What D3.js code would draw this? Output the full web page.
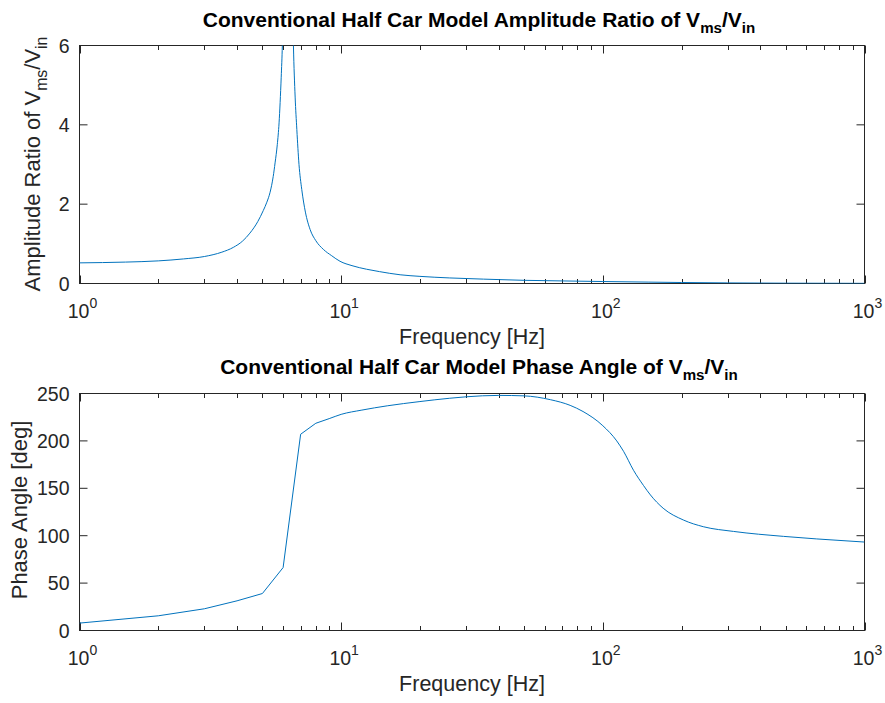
<!DOCTYPE html>
<html><head><meta charset="utf-8">
<script src="https://cdn.jsdelivr.net/npm/d3@7"></script>
<style>
body{margin:0;background:#fff}
text{font-family:"Liberation Sans",Arial,sans-serif;fill:#262626}
</style>
</head><body><svg id="c" width="885" height="703"></svg>
<script>
// ---- data ----
const ampFreq  = [1,1.5,2,2.5,3,3.5,3.87,4.2,4.48,4.8,5.04,5.2,5.35,5.5,5.59,5.7,5.79,5.9,5.96,6.05,6.15,6.25,6.35,6.45,6.57,6.67,6.77,6.9,7.07,7.3,7.61,8,8.55,9.2,9.9,11,12.5,14,16.8,20,26,35,50,70,100,150,200,300,500,1000];
const ampValue = [0.52,0.54,0.57,0.62,0.68,0.79,0.91,1.07,1.27,1.56,1.84,2.05,2.3,2.7,3.04,3.5,4.05,5.2,6.0,8,14,40,16,9,6.0,4.7,3.88,3.0,2.37,1.8,1.36,1.08,0.86,0.7,0.56,0.45,0.36,0.3,0.22,0.18,0.14,0.11,0.08,0.065,0.05,0.035,0.025,0.015,0.008,0.004];
const phaseFreq  = [1,2,3,4,5,6,7,8,9,10,12,15,20,26,30,40,50,63,75,84,100,113,120,131,143,152,170,203,242,316,490,657,1000];
const phaseValue = [7.8,15.5,22.9,31.3,39,66.4,207,218.6,223.5,228,232.5,237,241.5,245,246.5,248,247.5,243.5,237.5,231,216,200,189,169,153,143,129,116.6,109.5,104.5,99.3,96.6,93.3];
const xTickValues = [1,10,100,1000];
const xTickExponents = ["0","1","2","3"];
const ampTicks = [0,2,4,6];
const phaseTicks = [0,50,100,150,200,250];

const svg = d3.select("#c");
const L = 79.5, R = 864.5;
const x = d3.scaleLog().domain([1,1000]).range([L,R]);
const minorTicks = [];
[1,10,100].forEach(d => { for (let k=2;k<=9;k++) minorTicks.push(d*k); });
const axisColor = "#262626";

function panel(id, top, bottom, yDomain, yTicks, xlabY) {
  const y = d3.scaleLinear().domain(yDomain).range([bottom, top]);
  const g = svg.append("g");
  g.append("clipPath").attr("id", id).append("rect")
    .attr("x", L).attr("y", top).attr("width", R-L).attr("height", bottom-top);
  const tk = g.append("g").attr("stroke", axisColor).attr("stroke-width",1);
  xTickValues.forEach(v => {
    const px = Math.round(x(v)) + 0.5;
    tk.append("line").attr("x1",px).attr("x2",px).attr("y1",bottom).attr("y2",bottom-8);
    tk.append("line").attr("x1",px).attr("x2",px).attr("y1",top).attr("y2",top+8);
  });
  minorTicks.forEach(v => {
    const px = Math.round(x(v)) + 0.5;
    tk.append("line").attr("x1",px).attr("x2",px).attr("y1",bottom).attr("y2",bottom-4.5);
    tk.append("line").attr("x1",px).attr("x2",px).attr("y1",top).attr("y2",top+4.5);
  });
  yTicks.forEach(v => {
    const py = y(v);
    tk.append("line").attr("x1",L).attr("x2",L+8).attr("y1",py).attr("y2",py);
    tk.append("line").attr("x1",R).attr("x2",R-8).attr("y1",py).attr("y2",py);
  });
  g.append("rect").attr("x",L).attr("y",top).attr("width",R-L).attr("height",bottom-top)
    .attr("fill","none").attr("stroke",axisColor).attr("stroke-width",1);
  yTicks.forEach(v => {
    g.append("text").attr("x", L-10).attr("y", y(v)).attr("dy","0.36em")
      .attr("text-anchor","end").attr("font-size",19.5).text(v);
  });
  xTickValues.forEach((v,i) => {
    const t = g.append("text").attr("x", x(v)+3).attr("y", bottom+34.5)
      .attr("text-anchor","middle").attr("font-size",19.5);
    t.append("tspan").text("10");
    t.append("tspan").attr("dy",-10).attr("font-size",14).text(xTickExponents[i]);
  });
  g.append("text").attr("x",472).attr("y",xlabY).attr("text-anchor","middle")
    .attr("font-size",21.5).text("Frequency [Hz]");
  return {g, y};
}

function subTitle(sel, pre, sh) {
  sel.append("tspan").text(pre);
  sel.append("tspan").attr("dy",sh).attr("font-size","0.72em").text("ms");
  sel.append("tspan").attr("dy",-sh).text("/V");
  sel.append("tspan").attr("dy",sh).attr("font-size","0.72em").text("in");
}

const p1 = panel("clip1", 45.5, 283.5, [0,6], ampTicks, 344);
const p2 = panel("clip2", 393.5, 630.5, [0,250], phaseTicks, 691);

// amplitude line (smooth)
const ampLine = d3.line().x((d,i)=>x(ampFreq[i])).y(d=>p1.y(d)).curve(d3.curveMonotoneX);
p1.g.append("path").datum(ampValue).attr("clip-path","url(#clip1)")
  .attr("d", ampLine).attr("fill","none").attr("stroke","#0072BD").attr("stroke-width",1);

// phase line: straight segments at the coarse low-frequency samples, smooth above
const phasePts = phaseFreq.map((f,i)=>[f, phaseValue[i]]);
const lowPts = phasePts.filter(p => p[0] <= 8);
const highPts = phasePts.filter(p => p[0] >= 8);
p2.g.append("path").datum(lowPts).attr("clip-path","url(#clip2)")
  .attr("d", d3.line().x(p=>x(p[0])).y(p=>p2.y(p[1])))
  .attr("fill","none").attr("stroke","#0072BD").attr("stroke-width",1);
p2.g.append("path").datum(highPts).attr("clip-path","url(#clip2)")
  .attr("d", d3.line().x(p=>x(p[0])).y(p=>p2.y(p[1])).curve(d3.curveMonotoneX))
  .attr("fill","none").attr("stroke","#0072BD").attr("stroke-width",1);

// titles
const t1 = svg.append("text").attr("x",479).attr("y",26.5).attr("text-anchor","middle")
  .attr("font-size",21).attr("font-weight","bold").style("fill","#000");
subTitle(t1, "Conventional Half Car Model Amplitude Ratio of V", 6);
const t2 = svg.append("text").attr("x",479).attr("y",373.5).attr("text-anchor","middle")
  .attr("font-size",21).attr("font-weight","bold").style("fill","#000");
subTitle(t2, "Conventional Half Car Model Phase Angle of V", 6);

// y labels
const yl1 = svg.append("text").attr("transform","translate(40,164) rotate(-90)")
  .attr("text-anchor","middle").attr("font-size",22);
subTitle(yl1, "Amplitude Ratio of V", 7);
svg.append("text").attr("transform","translate(27,510) rotate(-90)")
  .attr("text-anchor","middle").attr("font-size",22).text("Phase Angle [deg]");
</script>
</body></html>
